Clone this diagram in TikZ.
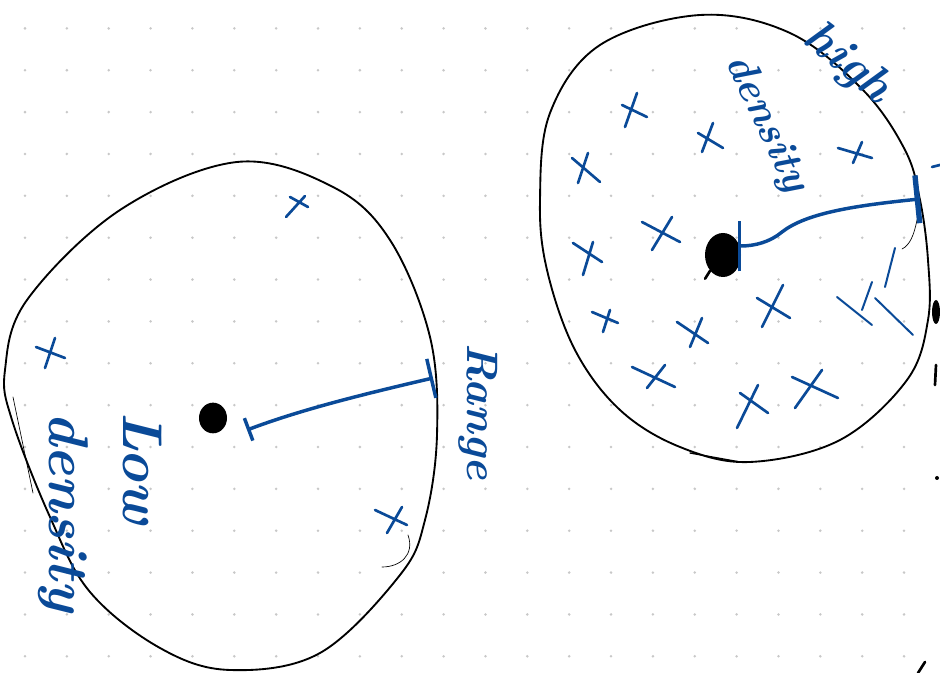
\documentclass[tikz,border=0pt]{standalone}
\usetikzlibrary{arrows.meta,shapes.geometric}
\definecolor{ink}{RGB}{10,74,152}
\definecolor{gridgray}{RGB}{200,200,200}
\begin{document}
\begin{tikzpicture}[x=0.75pt,y=-0.75pt,line cap=round,line join=round,
  outline/.style={draw=black,line width=1.4pt},
  thinline/.style={draw=black,line width=0.5pt},
  cross/.style={draw=ink,line width=2pt},
  inkline/.style={draw=ink,line width=2.6pt},
  blackdot/.style={fill=black,draw=none,inner sep=0pt},
  hand/.style={text=ink,inner sep=0pt}]
\useasboundingbox (0,0) rectangle (940,673);
\fill[white] (0,0) rectangle (940,673);
% dot grid
\foreach \i in {0,...,22}{\foreach \j in {0,...,15}{%
  \fill[gridgray] ({25+41.86*\i},{28.4+41.86*\j}) circle (1.4);}}
% ---------------- left blob ----------------
\draw[outline] plot[smooth cycle,tension=0.6] coordinates {
  (237,162) (333,187) (390,240) (430,337) (437,435) (425,520) (400,575)
  (320,653) (230,670) (160,648) (90,592) (50,517) (12,420) (5,370)
  (27,300) (120,210)};
\draw[thinline] (13,397) -- (33,493);
\draw[thinline] (382,567) .. controls (400,567) and (415,555) .. (408,535);
\node[blackdot,ellipse,minimum width=21pt,minimum height=23pt] (ldot) at (213,418) {};
\coordinate (lstart) at (433,378);
\coordinate (lend) at (247,430);
\draw[inkline,{Bar[width=30pt]}-{Bar[width=18pt]}] (lstart) .. controls (360,395) and (300,410) .. (lend);
% crosses left
\draw[cross] (290,197)--(308,207) (305,196)--(286,217);
\draw[cross] (36,347)--(65,358) (55,338)--(45,368);
\draw[cross] (375,510)--(407,525) (402,507)--(387,533);
% texts left
\node[hand,rotate=-90,font=\bfseries\itshape\fontsize{33}{35}\selectfont] (range) at (478,412) {Range};
\node[hand,rotate=-90,align=left,font=\bfseries\itshape\fontsize{42}{56}\selectfont] (lowdens) at (100,512) {Low\\density};
% ---------------- right blob ----------------
\draw[outline] plot[smooth cycle,tension=0.6] coordinates {
  (700,15) (790,33) (863,90) (905,150) (920,200) (928,260) (928,320)
  (907,380) (840,440) (750,462) (680,447) (620,410) (575,350) (547,270)
  (540,200) (550,113) (600,45)};
\draw[thinline,line width=1pt] (690,453) -- (740,462);
\draw[thinline] (917,220) .. controls (914,235) and (910,245) .. (902,249);
\node[blackdot,ellipse,minimum width=27pt,minimum height=33pt] (rdot) at (723,255) {};
\draw[black,line width=2pt] (rdot.south west) -- ++(-5,8);
\coordinate (rstart) at (920,199);
\coordinate (rend) at (738,246);
\draw[inkline,{Bar[width=36pt,line width=4pt]}-{Bar[width=38pt]}] (rstart) .. controls (850,206) and (805,214) .. (782,232) .. controls (770,242) and (755,246) .. (rend);
% crosses right
\draw[cross] (622,105)--(647,117) (637,93)--(625,127);
\draw[cross] (698,133)--(723,148) (713,123)--(702,152);
\draw[cross] (572,158)--(600,182) (588,153)--(578,183);
\draw[cross] (838,148)--(872,158) (862,142)--(853,163);
\draw[cross] (642,222)--(680,242) (672,217)--(652,250);
\draw[cross] (573,243)--(602,262) (593,242)--(583,275);
\draw[cross] (757,298)--(790,318) (783,285)--(762,327);
\draw[cross] (592,312)--(618,323) (610,310)--(603,332);
\draw[cross] (677,322)--(708,343) (702,318)--(690,347);
\draw[cross] (632,367)--(675,387) (665,365)--(647,388);
\draw[cross] (740,393)--(768,413) (758,385)--(737,428);
\draw[cross] (792,377)--(838,398) (822,370)--(795,408);
\draw[cross,line width=1.5pt] (895,248)--(885,287) (872,282)--(862,310)
  (837,297)--(872,325) (875,298)--(913,335);
% texts right
\node[hand,rotate=-40,font=\bfseries\itshape\fontsize{36}{38}\selectfont] (high) at (847,64) {high};
\node[hand,rotate=-65,font=\bfseries\itshape\fontsize{31}{33}\selectfont] (dens) at (766,124) {density};
% edge marks
\fill[black] (936,312) ellipse (4 and 12);
\draw[black,line width=2pt] (936,365) -- (935,385);
\fill[black] (937,478) circle (2);
\draw[black,line width=2pt] (925,662) -- (918,673);
\draw[ink,line width=2pt] (932,167) -- (940,165);
\end{tikzpicture}
\end{document}
